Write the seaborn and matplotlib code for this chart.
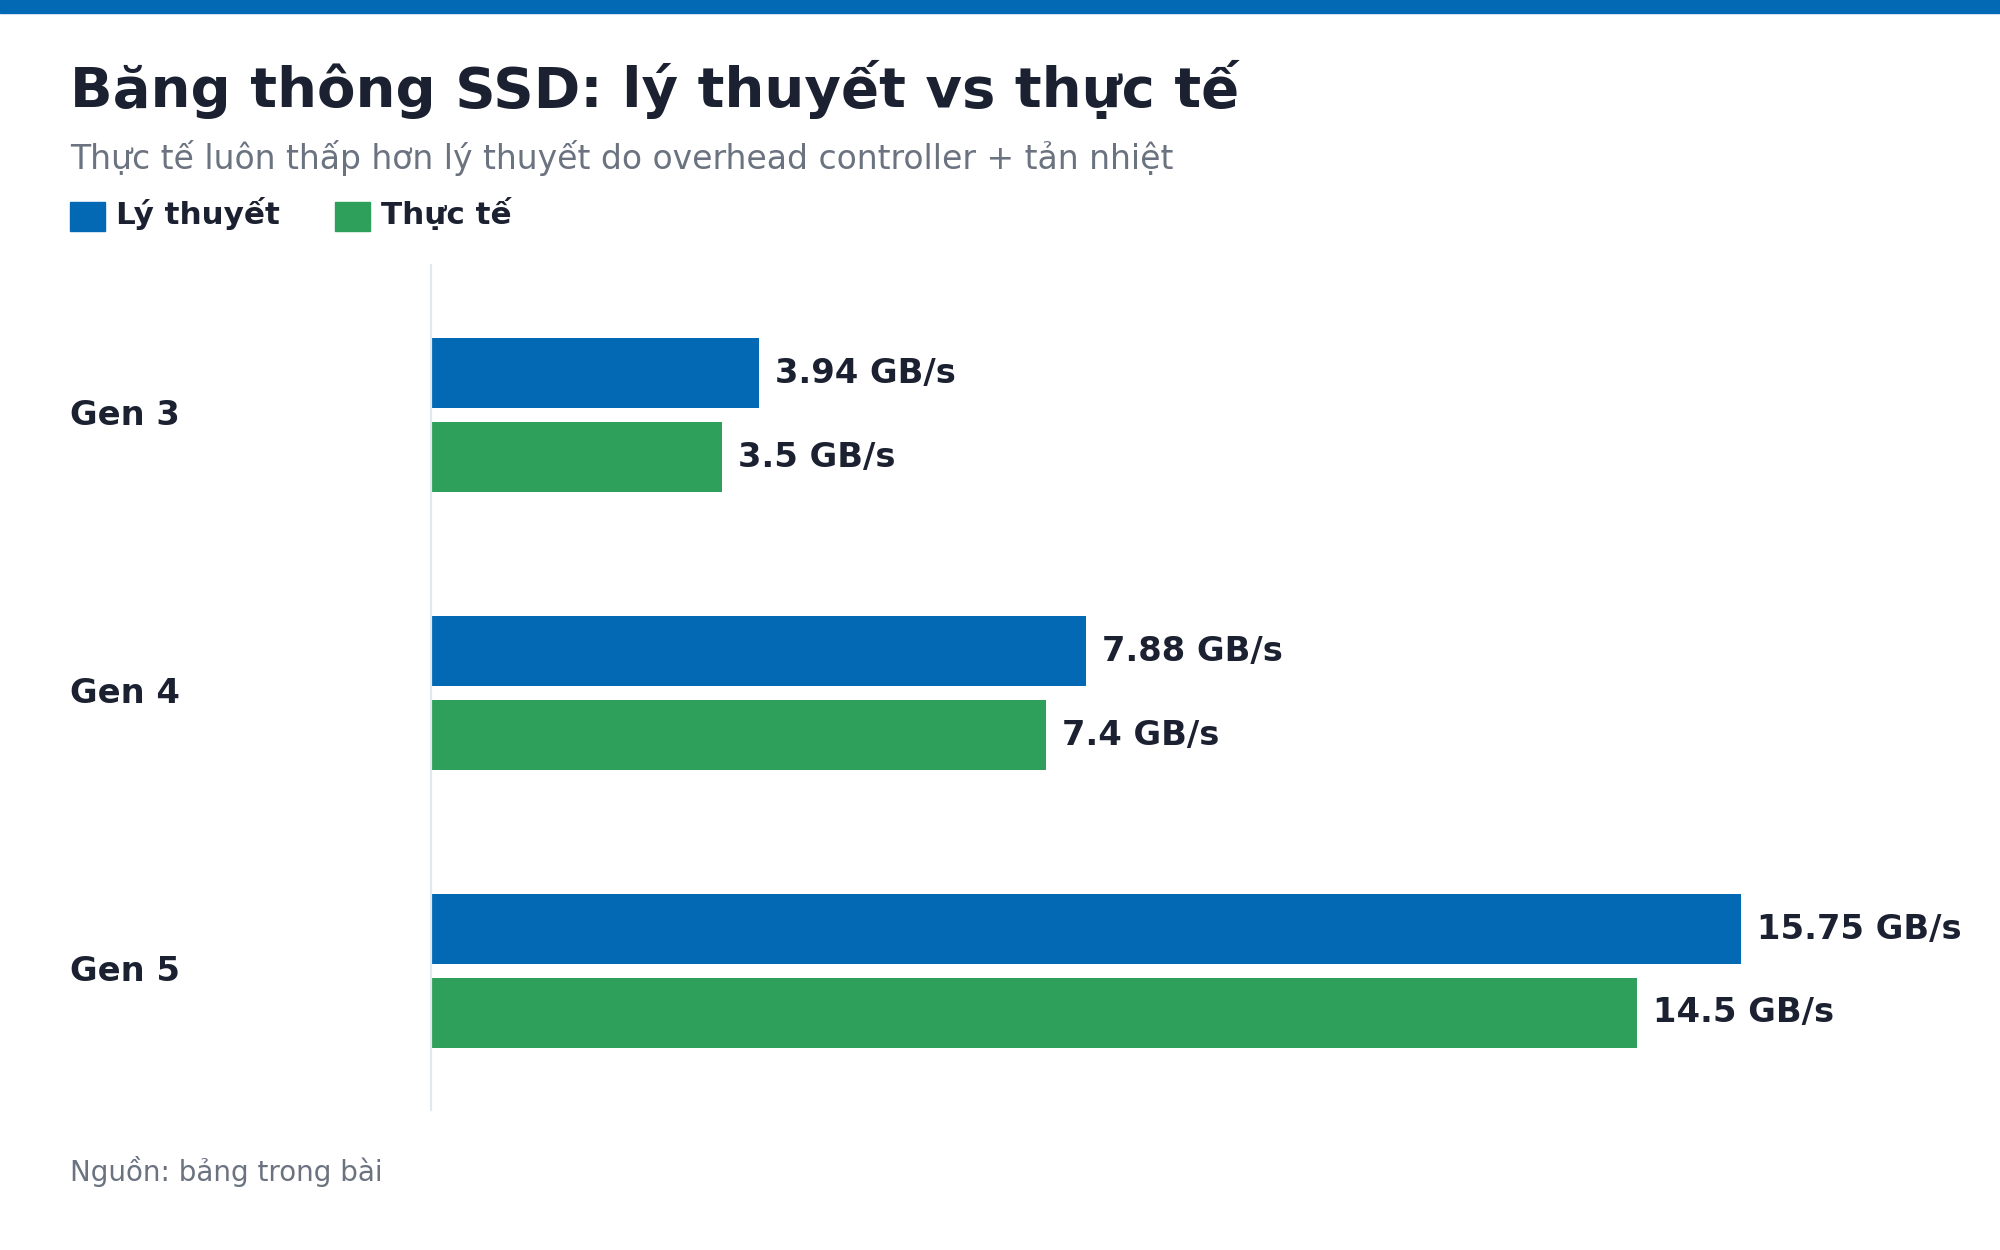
import pandas as pd
import matplotlib.pyplot as plt
import matplotlib.transforms as mtransforms
from matplotlib.patches import Rectangle
import seaborn as sns

# dữ liệu
gens = ['Gen 3', 'Gen 4', 'Gen 5']
ly_thuyet = [3.94, 7.88, 15.75]
thuc_te = [3.5, 7.4, 14.5]
series = ['Lý thuyết', 'Thực tế']

BLUE = '#0369b5'
GREEN = '#2ea05b'
DARK = '#1b2130'
GRAY = '#6b7280'
LINE = '#e2e8f0'

df = pd.DataFrame({
    'gen': gens * 2,
    'value': ly_thuyet + thuc_te,
    'kind': [series[0]] * len(gens) + [series[1]] * len(gens),
})

sns.set_theme(style='white')
plt.rcParams['font.family'] = ['DejaVu Sans']

W, H = 2000, 1250
fig = plt.figure(figsize=(20, 12.5), dpi=100)
fig.patch.set_facecolor('white')

def fy(py):
    return 1 - py / H

ax = fig.add_axes([431 / W, fy(1110), 1310 / W, (1110 - 265) / H])
sns.barplot(data=df, y='gen', x='value', hue='kind', orient='h',
            palette=[BLUE, GREEN], width=0.604, gap=0.167,
            saturation=1, legend=False, linewidth=0, ax=ax)

ax.set_xlim(0, 15.75)
ax.set_ylim(2.5, -0.54)
ax.set_xlabel('')
ax.set_ylabel('')
ax.set_xticks([])
ax.set_yticks([])
for s in ['top', 'right', 'bottom']:
    ax.spines[s].set_visible(False)
ax.spines['left'].set_color(LINE)
ax.spines['left'].set_linewidth(1.6)

# nhãn giá trị
for cont in ax.containers:
    ax.bar_label(cont, labels=[f'{v:g} GB/s' for v in cont.datavalues],
                 padding=11.5, fontsize=24.3, fontweight='bold', color=DARK)

# nhãn Gen
trans = mtransforms.blended_transform_factory(fig.transFigure, ax.transData)
for i, g in enumerate(gens):
    ax.text(70 / W, i, g, transform=trans, ha='left', va='center',
            fontsize=24.3, fontweight='bold', color=DARK)

# thanh trên cùng
fig.patches.append(Rectangle((0, fy(13)), 1, 13 / H, transform=fig.transFigure,
                             color=BLUE, zorder=0))

fig.text(70 / W, fy(107), 'Băng thông SSD: lý thuyết vs thực tế',
         fontsize=40.4, fontweight='bold', color=DARK, va='baseline')
fig.text(70 / W, fy(169), 'Thực tế luôn thấp hơn lý thuyết do overhead controller + tản nhiệt',
         fontsize=23.8, color=GRAY, va='baseline')

# chú thích
legend_x = [70, 335]
for lx, name, c in zip(legend_x, series, [BLUE, GREEN]):
    fig.patches.append(Rectangle((lx / W, fy(231)), 35 / W, 29 / H,
                                 transform=fig.transFigure, color=c))
    fig.text((lx + 46) / W, fy(224), name, fontsize=22.3, fontweight='bold',
             color=DARK, va='baseline')

fig.text(70 / W, fy(1181), 'Nguồn: bảng trong bài', fontsize=20, color=GRAY,
         va='baseline')

fig.savefig('out.png', dpi=100, facecolor='white')
